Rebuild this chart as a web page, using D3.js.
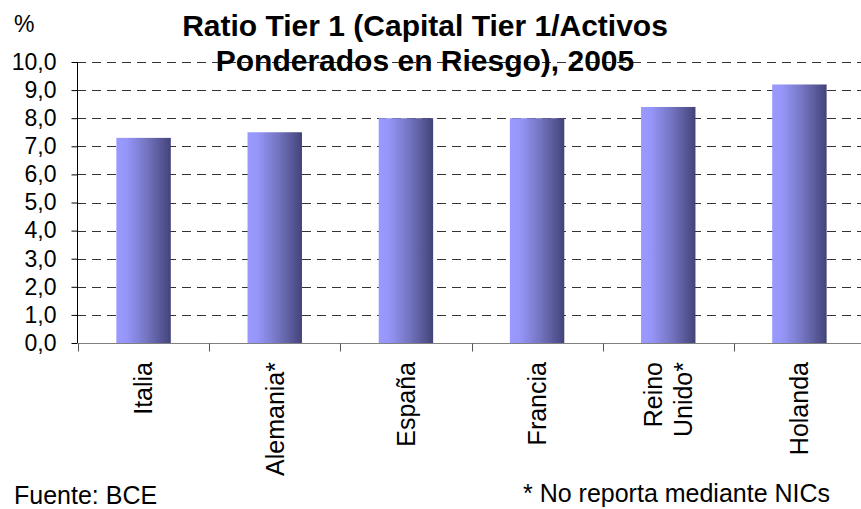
<!DOCTYPE html>
<html><head><meta charset="utf-8">
<script src="https://cdn.jsdelivr.net/npm/d3@7"></script>
<style>body{margin:0;background:#fff;} svg{display:block;font-family:"Liberation Sans",Arial,sans-serif;}</style>
</head><body><svg id="c" width="861" height="509"></svg>
<script>
const categories = ["Italia", "Alemania*", "España", "Francia", "Reino Unido*", "Holanda"];
const categoryLines = [["Italia"], ["Alemania*"], ["España"], ["Francia"], ["Reino", "Unido*"], ["Holanda"]];
const values = [7.3, 7.5, 8.0, 8.0, 8.4, 9.2];
const yTicks = [0, 1, 2, 3, 4, 5, 6, 7, 8, 9, 10];
const titleLines = ["Ratio Tier 1 (Capital Tier 1/Activos", "Ponderados en Riesgo), 2005"];
const unitLabel = "%";
const sourceNote = "Fuente: BCE";
const footNote = "* No reporta mediante NICs";

const svg = d3.select("#c");
const x = d3.scaleBand().domain(categories).range([78, 865]).padding(0);
const y = d3.scaleLinear().domain([0, 10]).range([343, 62]);
const fmt = v => d3.format(".1f")(v).replace(".", ",");

const defs = svg.append("defs");
const g = defs.append("linearGradient").attr("id", "bg").attr("x1", "0").attr("x2", "1").attr("y1", "0").attr("y2", "0");
g.append("stop").attr("offset", "0%").attr("stop-color", "#9999ff");
g.append("stop").attr("offset", "18%").attr("stop-color", "#9696fa");
g.append("stop").attr("offset", "55%").attr("stop-color", "#7575c2");
g.append("stop").attr("offset", "100%").attr("stop-color", "#43437a");

// grid
svg.append("g").selectAll("line").data(yTicks.filter(d => d > 0)).join("line")
  .attr("x1", 77).attr("x2", 861).attr("y1", d => Math.round(y(d)) + 0.5).attr("y2", d => Math.round(y(d)) + 0.5)
  .attr("stroke", "#333").attr("stroke-width", 1).attr("stroke-dasharray", "9,6");

// y axis
const ya = svg.append("g").attr("transform", "translate(77.5,0)")
  .call(d3.axisLeft(y).tickValues(yTicks).tickFormat(fmt).tickSize(6).tickPadding(15));
ya.select(".domain").attr("stroke", "#000").attr("d", `M0,${y(10)}V${y(0)}`);
ya.selectAll(".tick line").attr("stroke", "#000");
ya.selectAll("text").attr("font-size", 23).attr("fill", "#000").attr("font-family", "Liberation Sans, Arial, sans-serif");

// bars
const bw = x.bandwidth() * 0.415;
svg.append("g").selectAll("rect").data(values).join("rect")
  .attr("x", (d, i) => x(categories[i]) + x.bandwidth() / 2 - bw / 2)
  .attr("width", bw)
  .attr("y", d => y(d)).attr("height", d => y(0) - y(d))
  .attr("fill", "url(#bg)");

// x axis
const xa = svg.append("g").attr("transform", `translate(0,${y(0) + 0.5})`);
xa.append("line").attr("x1", 77).attr("x2", 861).attr("stroke", "#808080");
const bounds = categories.map(c => x(c)).concat([x.range()[1]]);
xa.selectAll(".t").data(bounds).join("line").attr("class", "t")
  .attr("x1", d => Math.round(d) + 0.5).attr("x2", d => Math.round(d) + 0.5).attr("y1", 0).attr("y2", 8).attr("stroke", "#555");

// category labels
categoryLines.forEach((lines, i) => {
  const cx = x(categories[i]) + x.bandwidth() / 2;
  const t = svg.append("text").attr("transform", `translate(${cx},362) rotate(-90)`)
    .attr("text-anchor", "end").attr("font-size", 25).attr("fill", "#000");
  const n = lines.length;
  lines.forEach((l, j) => {
    t.append("tspan").attr("x", 0).attr("y", (j - (n - 1) / 2) * 30).attr("dy", "0.35em").text(l);
  });
});

// title
svg.append("g").selectAll("text").data(titleLines).join("text")
  .attr("x", 425).attr("y", (d, i) => 36 + i * 35).attr("text-anchor", "middle")
  .attr("font-size", 30).attr("font-weight", "bold").attr("fill", "#000").text(d => d);

svg.append("text").attr("x", 14).attr("y", 32).attr("font-size", 23).text(unitLabel);
svg.append("text").attr("x", 14).attr("y", 504).attr("font-size", 25).text(sourceNote);
svg.append("text").attr("x", 523).attr("y", 502).attr("font-size", 25).text(footNote);
</script></body></html>
